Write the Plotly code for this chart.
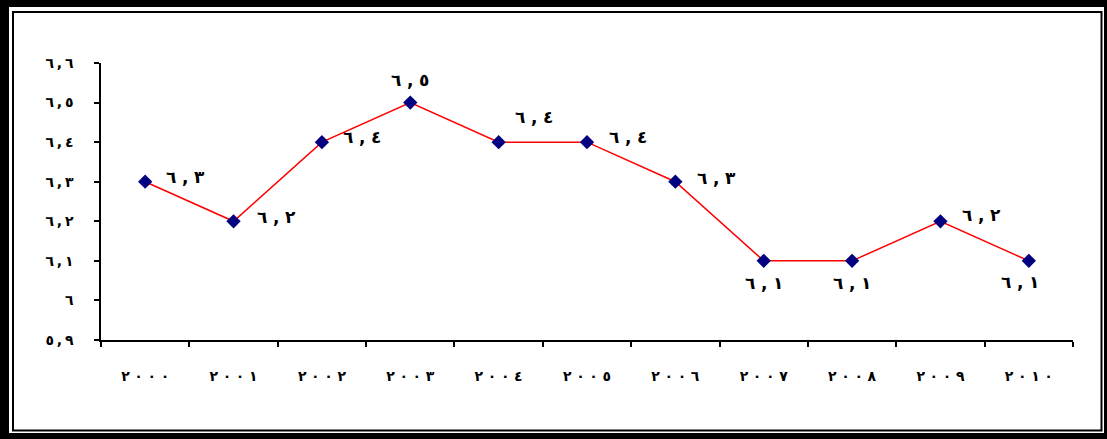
import plotly.graph_objects as go

years = ["٢٠٠٠", "٢٠٠١", "٢٠٠٢", "٢٠٠٣", "٢٠٠٤", "٢٠٠٥", "٢٠٠٦", "٢٠٠٧", "٢٠٠٨", "٢٠٠٩", "٢٠١٠"]
values = [6.3, 6.2, 6.4, 6.5, 6.4, 6.4, 6.3, 6.1, 6.1, 6.2, 6.1]
value_labels = ["٦,٣", "٦,٢", "٦,٤", "٦,٥", "٦,٤", "٦,٤", "٦,٣", "٦,١", "٦,١", "٦,٢", "٦,١"]
y_tick_vals = [5.9, 6.0, 6.1, 6.2, 6.3, 6.4, 6.5, 6.6]
y_tick_text = ["٥,٩", "٦", "٦,١", "٦,٢", "٦,٣", "٦,٤", "٦,٥", "٦,٦"]

# label placement style (anchor, pixel offsets) per point
label_style = [
    ("left", 19, 5), ("left", 21, 4), ("left", 19, 5),
    ("center", 0, 23), ("left", 14, 25), ("left", 20, 5),
    ("left", 20, 4), ("center", 0, -22), ("center", 0, -22),
    ("left", 20, 6), ("center", -9, -21),
]

LRM = "\u200e"


def spaced(s, space):
    """Display helper: widen glyph spacing like the original rendering,
    keeping left-to-right digit order."""
    return LRM + (LRM + space + LRM).join(list(s)) + LRM


W, H = 1107, 439
L, R, T, B = 101, 34, 63, 99
pw, ph = W - L - R, H - T - B


def px(x):
    return (x - L) / pw


def py(y):
    return (H - B - y) / ph


font_fam = "DejaVu Sans"
tick_font = dict(family=font_fam, size=14, color="black", weight="bold")
lab_font = dict(family=font_fam, size=17, color="black", weight="bold")

fig = go.Figure()
fig.add_trace(go.Scatter(
    x=years, y=values,
    mode="lines+markers",
    line=dict(color="#ff0000", width=1.5),
    marker=dict(symbol="diamond", color="#000080", size=11),
    cliponaxis=False,
    showlegend=False,
))

annotations = []
for xv, yv, lab, (xa, dx, dy) in zip(years, values, value_labels, label_style):
    annotations.append(dict(
        x=xv, y=yv, xref="x", yref="y", text=spaced(lab, "\u2004"), showarrow=False,
        xanchor=xa, yanchor="middle", xshift=dx, yshift=dy, font=lab_font,
    ))

shapes = [
    dict(type="rect", xref="paper", yref="paper", layer="below",
         x0=px(0), x1=px(W), y0=py(0), y1=py(H), fillcolor="black", line=dict(width=0)),
    dict(type="rect", xref="paper", yref="paper", layer="below",
         x0=px(9), x1=px(1104), y0=py(7), y1=py(433), fillcolor="white", line=dict(width=0)),
    dict(type="rect", xref="paper", yref="paper", layer="below",
         x0=px(13), x1=px(1101.5), y0=py(12), y1=py(430.5), fillcolor="rgba(0,0,0,0)",
         line=dict(color="black", width=2)),
]

fig.update_layout(
    width=W, height=H,
    margin=dict(l=L, r=R, t=T, b=B, pad=0),
    paper_bgcolor="white",
    plot_bgcolor="rgba(0,0,0,0)",
    shapes=shapes,
    annotations=annotations,
    xaxis=dict(
        type="category", range=[-0.5, 10.5], tickson="boundaries",
        tickvals=years, ticktext=[spaced(y, "\u2004") for y in years],
        showgrid=False, zeroline=False,
        showline=True, linecolor="black", linewidth=1.5,
        ticks="outside", ticklen=5, tickcolor="black", tickwidth=1.5,
        tickfont=tick_font,
        ticklabelstandoff=22,
    ),
    yaxis=dict(
        range=[5.9, 6.6], tickvals=y_tick_vals,
        ticktext=[spaced(t, "\u2009") for t in y_tick_text],
        showgrid=False, zeroline=False,
        showline=True, linecolor="black", linewidth=1.5,
        ticks="outside", ticklen=5, tickcolor="black", tickwidth=1.5,
        tickfont=tick_font,
        ticklabelstandoff=18,
    ),
)

post = """
document.body.style.margin = '0';
document.body.style.overflow = 'hidden';
"""

fig.write_html("out.html", post_script=post, config={"displayModeBar": False})
